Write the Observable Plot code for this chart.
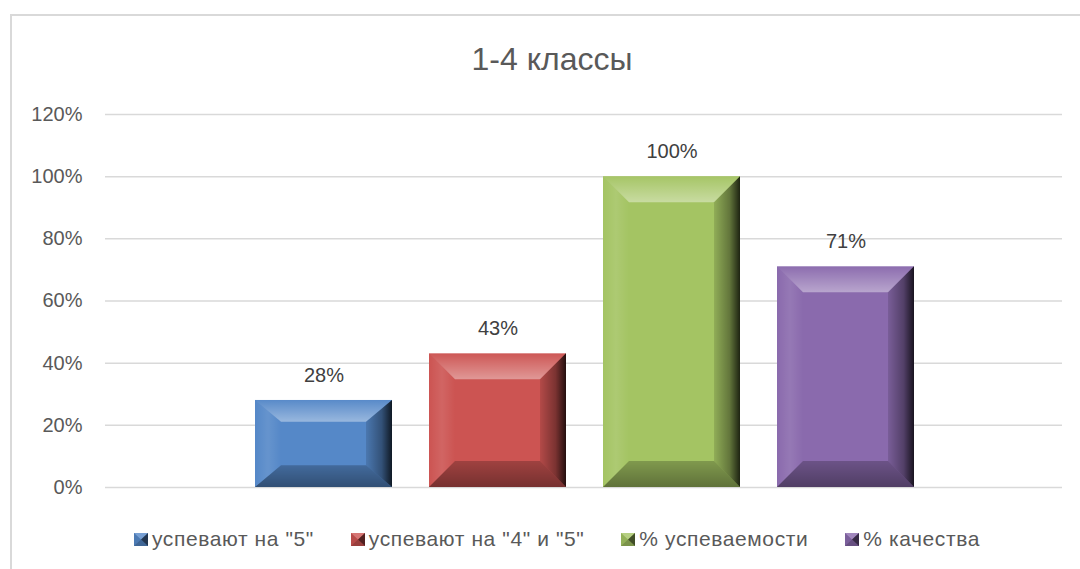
<!DOCTYPE html>
<html><head><meta charset="utf-8">
<script src="https://cdn.jsdelivr.net/npm/d3@7"></script>
<script src="https://cdn.jsdelivr.net/npm/@observablehq/plot@0.6"></script>
<style>
body{margin:0;background:#fff;font-family:"Liberation Sans",Arial,sans-serif;}
#wrap{position:relative;width:1080px;height:569px;overflow:hidden;background:#fff;}
#border{position:absolute;left:10px;top:14px;width:1200px;height:700px;border:2px solid #d9d9d9;box-sizing:border-box;}
#chart{position:absolute;left:0;top:0;}
#title{position:absolute;top:41px;left:552px;transform:translateX(-50%);font-size:32px;line-height:37px;color:#595959;white-space:nowrap;}
#legend{position:absolute;top:527px;left:134px;display:flex;gap:37px;font-size:21px;line-height:24px;letter-spacing:0.6px;color:#595959;white-space:nowrap;}
#legend .item{display:flex;align-items:center;gap:4px;}
#legend svg{display:block;}
</style>
</head><body>
<div id="wrap">
  <div id="border"></div>
  <div id="chart"></div>
  <div id="title"></div>
  <div id="legend"></div>
</div>
<script>
const title = "1-4 классы";
const categories = ['успевают на "5"', 'успевают на "4" и "5"', '% успеваемости', '% качества'];
const values = [0.28, 0.43, 1.00, 0.71];
const colors = ["#5588c8", "#cc5452", "#a4c463", "#8a6aad"];
const yTicks = [0, 0.2, 0.4, 0.6, 0.8, 1.0, 1.2];

const data = categories.map((c, i) => ({series: c, value: values[i]}));
const pct = d3.format(".0%");
const NS = "http://www.w3.org/2000/svg";

function el(name, attrs) {
  const e = document.createElementNS(NS, name);
  for (const k in attrs) e.setAttribute(k, attrs[k]);
  return e;
}

function bevel(index, scales, vals, dims, ctx, next) {
  const g = next(index, scales, vals, dims, ctx);
  const defs = el("defs", {});
  defs.innerHTML = `
    <linearGradient id="bvTop" x1="0" y1="0" x2="0" y2="1">
      <stop offset="0" stop-color="#fff" stop-opacity="0.02"/>
      <stop offset="1" stop-color="#fff" stop-opacity="0.4"/></linearGradient>
    <linearGradient id="bvRight" x1="0" y1="0" x2="1" y2="0">
      <stop offset="0" stop-color="#000" stop-opacity="0.12"/>
      <stop offset="0.6" stop-color="#000" stop-opacity="0.4"/>
      <stop offset="1" stop-color="#000" stop-opacity="0.82"/></linearGradient>
    <linearGradient id="bvBottom" x1="0" y1="0" x2="0" y2="1">
      <stop offset="0" stop-color="#000" stop-opacity="0.22"/>
      <stop offset="1" stop-color="#000" stop-opacity="0.42"/></linearGradient>
    <linearGradient id="bvLeft" x1="0" y1="0" x2="1" y2="0">
      <stop offset="0" stop-color="#fff" stop-opacity="0.0"/>
      <stop offset="0.5" stop-color="#fff" stop-opacity="0.1"/>
      <stop offset="1" stop-color="#fff" stop-opacity="0.0"/></linearGradient>`;
  g.insertBefore(defs, g.firstChild);
  const rects = Array.from(g.querySelectorAll("rect"));
  for (const r of rects) {
    const x = +r.getAttribute("x"), y = +r.getAttribute("y");
    const w = +r.getAttribute("width"), h = +r.getAttribute("height");
    const bx = Math.min(26, w / 4), by = Math.min(26, h / 4);
    const P = pts => pts.map(p => p.join(",")).join(" ");
    const polys = [
      [[[x, y + h], [x + w, y + h], [x + w - bx, y + h - by], [x + bx, y + h - by]], "url(#bvBottom)"],
      [[[x, y], [x + bx, y + by], [x + bx, y + h - by], [x, y + h]], "url(#bvLeft)"],
      [[[x, y], [x + w, y], [x + w - bx, y + by], [x + bx, y + by]], "url(#bvTop)"],
      [[[x + w, y], [x + w - bx, y + by], [x + w - bx, y + h - by], [x + w, y + h]], "url(#bvRight)"]
    ];
    const grp = el("g", {});
    for (const [pp, f] of polys) grp.appendChild(el("polygon", {points: P(pp), fill: f}));
    r.after(grp);
  }
  return g;
}

const plot = Plot.plot({
  width: 1080,
  height: 569,
  marginTop: 114,
  marginBottom: 82,
  marginLeft: 105,
  marginRight: 18,
  style: {fontFamily: '"Liberation Sans", Arial, sans-serif', fontSize: "20px", color: "#595959", background: "transparent"},
  x: {domain: categories, range: [236, 932], paddingInner: 0.213, paddingOuter: 0.106, axis: null},
  y: {domain: [0, 1.2], axis: null},
  color: {domain: categories, range: colors},
  marks: [
    Plot.ruleY(yTicks, {stroke: "#d9d9d9", strokeWidth: 1.5}),
    Plot.barY(data, {x: "series", y: "value", fill: "series", render: bevel}),
    Plot.text(data, {x: "series", y: "value", text: d => pct(d.value), dy: -25, fill: "#404040", fontSize: 20}),
    Plot.axisY({ticks: yTicks, tickFormat: pct, tickSize: 0, tickPadding: 23, fontSize: 20, fill: "#595959", label: null})
  ]
});
document.getElementById("chart").appendChild(plot);
document.getElementById("title").textContent = title;

const legend = document.getElementById("legend");
categories.forEach((c, i) => {
  const item = document.createElement("div");
  item.className = "item";
  const s = el("svg", {width: 14, height: 13, viewBox: "0 0 14 13"});
  s.appendChild(el("rect", {x: 0, y: 0, width: 14, height: 13, fill: colors[i]}));
  s.appendChild(el("polygon", {points: "0,0 14,0 7,6.5", fill: "#fff", "fill-opacity": 0.2}));
  s.appendChild(el("polygon", {points: "0,13 14,13 7,6.5", fill: "#000", "fill-opacity": 0.25}));
  s.appendChild(el("polygon", {points: "14,0 14,13 7,6.5", fill: "#000", "fill-opacity": 0.6}));
  s.appendChild(el("polygon", {points: "0,0 0,13 7,6.5", fill: "#000", "fill-opacity": 0.1}));
  item.appendChild(s);
  const t = document.createElement("span");
  t.textContent = c;
  item.appendChild(t);
  legend.appendChild(item);
});
</script>
</body></html>
